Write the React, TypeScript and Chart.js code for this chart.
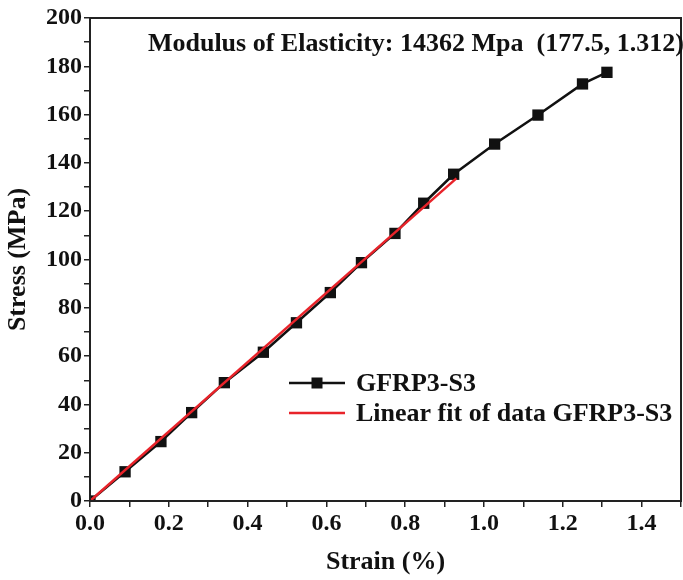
import React, { useEffect, useRef } from "react";
import { Chart, registerables } from "chart.js";

Chart.register(...registerables);

const strain = [0, 0.089, 0.18, 0.258, 0.341, 0.44, 0.524, 0.61, 0.689, 0.774, 0.847, 0.923, 1.027, 1.137, 1.25, 1.312];
const stress = [0, 12.1, 24.6, 36.6, 49.0, 61.6, 73.8, 86.3, 98.7, 110.8, 123.3, 135.3, 147.8, 159.8, 172.7, 177.5];
const fitStrain = [0, 0.93];
const fitStress = [0, 133.6];
const seriesLabels = ["GFRP3-S3", "Linear fit of data GFRP3-S3"];
const annotationText = "Modulus of Elasticity: 14362 Mpa  (177.5, 1.312)";
const xTitle = "Strain (%)";
const yTitle = "Stress (MPa)";

const FONT = "'Liberation Serif', 'Times New Roman', serif";

const frameAndExtras = {
  id: "frameAndExtras",
  afterDraw(chart: any) {
    const { ctx, chartArea } = chart;
    const xs = chart.scales.x;
    const ys = chart.scales.y;
    ctx.save();
    ctx.strokeStyle = "#222";
    ctx.lineWidth = 2;
    ctx.strokeRect(chartArea.left, chartArea.top, chartArea.right - chartArea.left, chartArea.bottom - chartArea.top);
    ctx.fillStyle = "#111";
    ctx.font = `bold 26px ${FONT}`;
    ctx.textBaseline = "middle";
    ctx.textAlign = "left";
    ctx.fillText(annotationText, xs.getPixelForValue(0.147), ys.getPixelForValue(189));
    const ds = chart.data.datasets;
    const lx0 = chartArea.left + 199;
    const lx1 = chartArea.left + 255;
    const rows = [chartArea.top + 365, chartArea.top + 395];
    [0, 1].forEach((i) => {
      const d = ds[i];
      const y = rows[i];
      ctx.strokeStyle = d.borderColor;
      ctx.lineWidth = d.borderWidth;
      ctx.beginPath();
      ctx.moveTo(lx0, y);
      ctx.lineTo(lx1, y);
      ctx.stroke();
      if (d.pointRadius > 0) {
        ctx.fillStyle = d.pointBackgroundColor;
        const s = 5.5;
        ctx.fillRect((lx0 + lx1) / 2 - s, y - s, 2 * s, 2 * s);
      }
      ctx.fillStyle = "#111";
      ctx.font = `bold 26px ${FONT}`;
      ctx.fillText(d.label, lx1 + 11, y + 1);
    });
    ctx.restore();
  },
};

export default function App() {
  const ref = useRef<HTMLCanvasElement>(null);
  useEffect(() => {
    if (!ref.current) return;
    const tickFont = { family: FONT, size: 24, weight: "bold" as const };
    const titleFont = { family: FONT, size: 26, weight: "bold" as const };
    const zero = (s: any) => {
      s.paddingLeft = 0;
      s.paddingRight = 0;
      s.paddingTop = 0;
      s.paddingBottom = 0;
    };
    const chart = new Chart(ref.current, {
      type: "line",
      data: {
        datasets: [
          {
            label: seriesLabels[0],
            data: strain.map((x, i) => ({ x, y: stress[i] })),
            borderColor: "#111",
            borderWidth: 2.5,
            pointStyle: "rect",
            pointRadius: 8,
            pointBackgroundColor: "#111",
            pointBorderColor: "#111",
            pointBorderWidth: 0,
            tension: 0,
            order: 1,
            clip: 0,
          },
          {
            label: seriesLabels[1],
            data: fitStrain.map((x, i) => ({ x, y: fitStress[i] })),
            borderColor: "#e8232a",
            borderWidth: 2.5,
            pointRadius: 0,
            tension: 0,
            order: 0,
            clip: 0,
          },
        ],
      },
      options: {
        responsive: false,
        animation: false,
        layout: { padding: { top: 18, right: 2, left: 0, bottom: 0 } },
        plugins: { legend: { display: false }, tooltip: { enabled: false }, title: { display: false } },
        scales: {
          x: {
            type: "linear",
            min: 0,
            max: 1.5,
            grid: { display: true, drawOnChartArea: false, drawTicks: true, tickLength: 6, color: "#222", lineWidth: 1.5 },
            border: { display: true, color: "#222", width: 2 },
            ticks: {
              stepSize: 0.1,
              autoSkip: false,
              maxRotation: 0,
              padding: 2,
              color: "#111",
              font: tickFont,
              callback: (v: any, i: number) => (i % 2 === 0 ? Number(v).toFixed(1) : ""),
            },
            title: { display: true, text: xTitle, color: "#111", font: titleFont, padding: { top: 0, bottom: 2 } },
            afterFit: (s: any) => {
              s.height = 79;
              zero(s);
            },
          },
          y: {
            type: "linear",
            min: 0,
            max: 200,
            grid: { display: true, drawOnChartArea: false, drawTicks: true, tickLength: 6, color: "#222", lineWidth: 1.5 },
            border: { display: true, color: "#222", width: 2 },
            ticks: {
              stepSize: 10,
              autoSkip: false,
              padding: 2,
              color: "#111",
              font: tickFont,
              callback: (v: any, i: number) => (i % 2 === 0 ? String(Math.round(Number(v))) : ""),
            },
            title: { display: true, text: yTitle, color: "#111", font: titleFont, padding: { top: 3, bottom: 0 } },
            afterFit: (s: any) => {
              s.width = 90;
              zero(s);
            },
          },
        },
      },
      plugins: [frameAndExtras],
    });
    return () => chart.destroy();
  }, []);
  return (
    <div style={{ position: "absolute", left: 0, top: 0, width: 683, height: 580, overflow: "hidden", background: "#fff" }}>
      <canvas ref={ref} width={689} height={580} style={{ display: "block" }} />
    </div>
  );
}
